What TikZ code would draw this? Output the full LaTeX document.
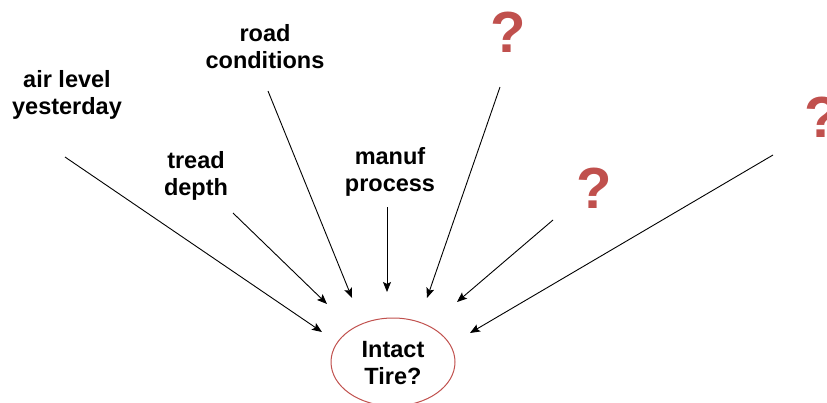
\documentclass[tikz,border=0pt]{standalone}
\usepackage{fontspec}
\setmainfont{Liberation Sans}
\usetikzlibrary{arrows.meta}
\definecolor{tirered}{HTML}{C0504D}
\begin{document}
\begin{tikzpicture}[x=1pt,y=-1pt,
  lbl/.style={font=\fontsize{23.5}{27}\selectfont\bfseries, align=center, inner sep=0pt},
  qm/.style={font=\fontsize{58}{58}\selectfont\bfseries, text=tirered, inner sep=0pt},
  arr/.style={-{Stealth[length=10pt,width=8pt,inset=2pt]}, line width=0.9pt}]
\useasboundingbox (0,0) rectangle (827,402);
\node[lbl] (air) at (67,95) {air level\\yesterday};
\node[lbl] (tread) at (196,176) {tread\\depth};
\node[lbl] (road) at (265,47) {road\\conditions};
\node[lbl] (manuf) at (390,172) {manuf\\process};
\node[qm] (q1) at (508,32) {?};
\node[qm] (q2) at (594,188) {?};
\node[qm] (q3) at (822,117) {?};
\draw[draw=tirered, line width=1pt] (393,362) ellipse (62 and 44);
\node[lbl] (tire) at (393,363) {Intact\\Tire?};
\coordinate (s1) at (65,157);  \coordinate (e1) at (322,332);
\coordinate (s2) at (233,213); \coordinate (e2) at (327,304);
\coordinate (s3) at (268,91);  \coordinate (e3) at (352,298);
\coordinate (s4) at (387,207); \coordinate (e4) at (387,292);
\coordinate (s5) at (500,87);  \coordinate (e5) at (427,298);
\coordinate (s6) at (553,220); \coordinate (e6) at (457,302);
\coordinate (s7) at (773,155); \coordinate (e7) at (470,333);
\foreach \i in {1,...,7} \draw[arr] (s\i) -- (e\i);
\end{tikzpicture}
\end{document}
